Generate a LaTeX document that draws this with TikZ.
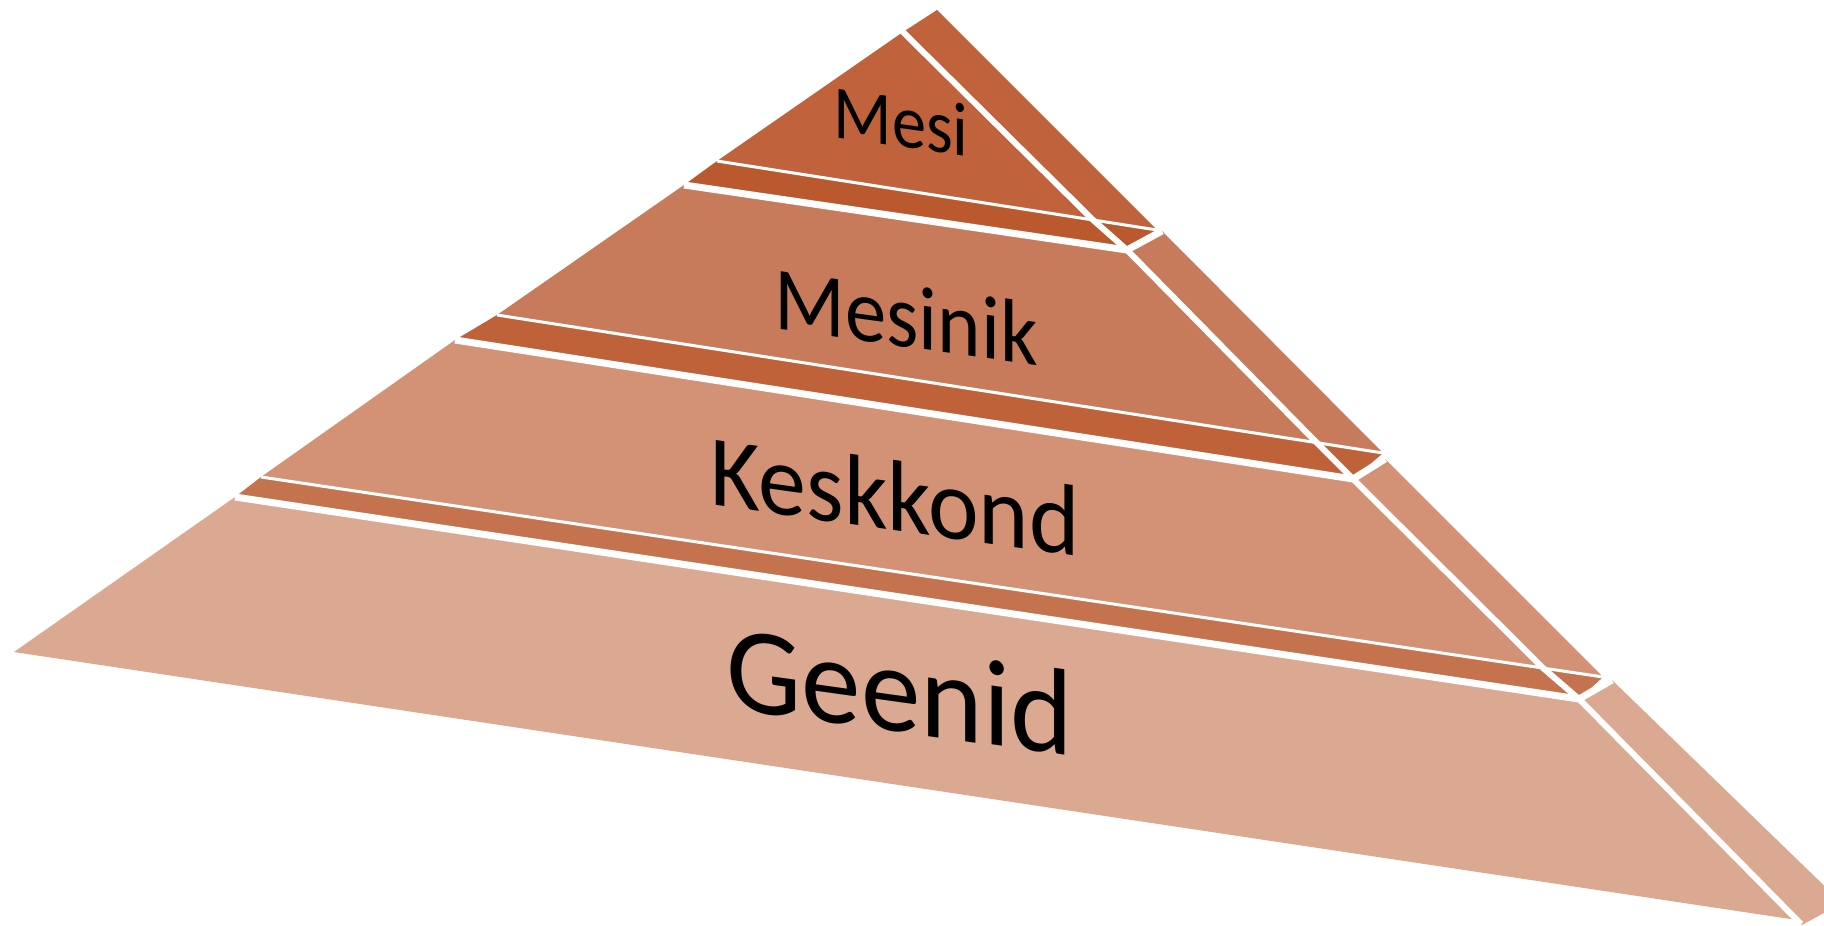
\documentclass[tikz,border=0pt]{standalone}
\usepackage{fontspec}
\setmainfont{Carlito}
\definecolor{cmesi}{HTML}{C0623C}
\definecolor{smesi}{HTML}{BB592E}
\definecolor{cmesinik}{HTML}{C77B5A}
\definecolor{skesk}{HTML}{BF6139}
\definecolor{ckesk}{HTML}{D39275}
\definecolor{sgeen}{HTML}{C5734F}
\definecolor{cgeen}{HTML}{DBA892}
\tikzset{
  gapthin/.style={white, line width=3pt},
  gapthick/.style={white, line width=7pt, line join=bevel},
  ridge/.style={white, line width=6pt, line join=bevel},
  lbl/.style={inner sep=0pt, text=black, transform shape},
}
\begin{document}
\begin{tikzpicture}[x=1pt,y=1pt]
\useasboundingbox (0,0) rectangle (1824,-926);
\clip (0,0) rectangle (1824,-926);
% apex
\coordinate (A) at (903,-32);
\coordinate (T) at (937,-10);
\coordinate (A0) at (898,-27);
% Mesi
\coordinate (m1) at (717,-161);
\coordinate (m2) at (1092,-219);
\coordinate (m3) at (1157,-230);
% Mesinik
\coordinate (n1) at (684,-185);
\coordinate (n2) at (1127,-250);
\coordinate (n3) at (1162,-231);
\coordinate (n4) at (1383,-453);
\coordinate (n5) at (1317,-443);
\coordinate (n6) at (497,-315);
% Keskkond
\coordinate (k1) at (455,-340);
\coordinate (k2) at (1353,-479);
\coordinate (k3) at (1385,-459);
\coordinate (k4) at (1603,-677);
\coordinate (k5) at (1543,-668);
\coordinate (k6) at (261,-477);
% Geenid
\coordinate (g1) at (235,-497);
\coordinate (g2) at (1579,-699);
\coordinate (g3) at (1612,-680);
\coordinate (g4) at (1842,-903);
\coordinate (g5) at (1802,-925);
\coordinate (g6) at (1797,-920);
\coordinate (g7) at (14,-652);
\coordinate (gz) at (1801,-924);
% tops of the lower layers (dark strips)
\fill[smesi] (m1) -- (m3) -- (n2) -- (n1) -- cycle;
\fill[skesk] (n6) -- (n4) -- (k2) -- (k1) -- cycle;
\fill[sgeen] (k6) -- (k4) -- (g2) -- (g1) -- cycle;
% faces
\fill[cmesi] (A) -- (m1) -- (m2) -- cycle;
\fill[cmesi] (A) -- (T) -- (m3) -- (m2) -- cycle;
\fill[cmesinik] (n1) -- (n2) -- (n5) -- (n6) -- cycle;
\fill[cmesinik] (n2) -- (n3) -- (n4) -- (n5) -- cycle;
\fill[ckesk] (k1) -- (k2) -- (k5) -- (k6) -- cycle;
\fill[ckesk] (k2) -- (k3) -- (k4) -- (k5) -- cycle;
\fill[cgeen] (g1) -- (g2) -- (g6) -- (g7) -- cycle;
\fill[cgeen] (g2) -- (g3) -- (g4) -- (g5) -- cycle;
% white gaps
\draw[gapthin] (m1) -- (m3);
\draw[gapthin] (n6) -- (n4);
\draw[gapthin] (k6) -- (k4);
\draw[gapthick] (n1) -- (n2) -- (n3);
\draw[gapthick] (k1) -- (k2) -- (k3);
\draw[gapthick] (g1) -- (g2) -- (g3);
\draw[ridge] (A0) -- (A) -- (m2) -- (n2) -- (n5) -- (k2) -- (k5) -- (g2) -- (gz);
% labels
\begin{scope}[shift={(901,-121)}, yslant=-0.14, xscale=0.9]
\node[lbl, font=\fontsize{76}{80}\selectfont] (mesi) at (0,0) {Mesi};
\end{scope}
\begin{scope}[shift={(906,-316)}, yslant=-0.14, xscale=0.92]
\node[lbl, font=\fontsize{90}{95}\selectfont] (mesinik) at (0,0) {Mesinik};
\end{scope}
\begin{scope}[shift={(895,-496)}, yslant=-0.14, xscale=0.95]
\node[lbl, font=\fontsize{101}{105}\selectfont] (keskkond) at (0,0) {Keskkond};
\end{scope}
\begin{scope}[shift={(900,-690)}, yslant=-0.14, xscale=0.97]
\node[lbl, font=\fontsize{123}{128}\selectfont] (geenid) at (0,0) {Geenid};
\end{scope}
\end{tikzpicture}
\end{document}
